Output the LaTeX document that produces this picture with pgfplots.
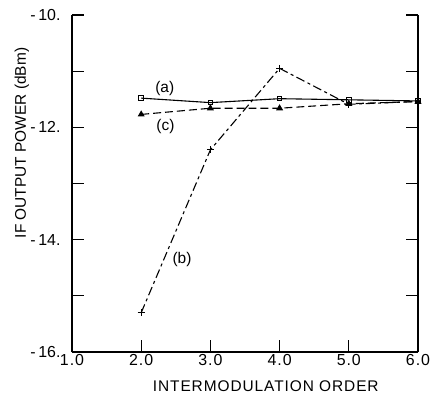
\documentclass[border=0pt]{standalone}
\usepackage{fontspec}
\setmainfont{Liberation Sans}
\newfontfamily\widefont[LetterSpace=6]{Liberation Sans}
\usepackage{pgfplots}
\pgfplotsset{compat=1.18}
\begin{document}
\begin{tikzpicture}
\pgfplotsset{
  common/.style={
    scale only axis, width=346bp, height=337bp,
    xmin=1, xmax=6, ymin=-16, ymax=-10,
    tick align=inside, major tick length=12bp,
    tick style={black, line width=1.1pt},
    axis line style={line width=1.1pt},
  }
}
\begin{axis}[common,
  axis x line*=bottom, axis y line*=left,
  xtick={1,2,3,4,5,6},
  xticklabels={1.0,2.0,3.0,4.0,5.0,6.0},
  ytick={-16,-15,-14,-13,-12,-11,-10},
  yticklabels={{-\,16.},{},{-\,14.},{},{-\,12.},{},{-\,10.}},
  yticklabel style={xshift=-8bp, font=\fontsize{16}{18}\selectfont},
  xticklabel style={yshift=1bp, font=\widefont\fontsize{16}{18}\selectfont},
  xlabel={INTERMODULATION\ ORDER},
  ylabel={IF OUTPUT POWER (dBm)},
  every axis x label/.style={at={(axis description cs:0.56,-0.10)}, anchor=center, font=\widefont\fontsize{15.5}{17}\selectfont},
  every axis y label/.style={at={(axis description cs:-0.145,0.62)}, rotate=90, anchor=center, font=\fontsize{15.5}{17}\selectfont},
  clip=false,
]
% (a) open squares, solid
\addplot[black, line width=1.1pt, mark=square, mark size=2.3pt, mark options={solid, line width=1pt}]
  coordinates {(2,-11.48) (3,-11.56) (4,-11.49) (5,-11.51) (6,-11.53)};
% (b) plus marks, dash-dot
\addplot[black, line width=1.1pt, dash pattern=on 9pt off 3.5pt on 3pt off 3.5pt, mark=+, mark size=3.5pt, mark options={solid, line width=1pt}]
  coordinates {(2,-15.30) (3,-12.40) (4,-10.95) (5,-11.59) (6,-11.54)};
% (c) filled triangles, dashed
\addplot[black, line width=1.1pt, dash pattern=on 8pt off 4pt, mark=triangle*, mark size=3pt, mark options={solid}]
  coordinates {(2,-11.77) (3,-11.66) (4,-11.66) (5,-11.58) (6,-11.54)};
\node[font=\fontsize{15.5}{17}\selectfont] at (axis cs:2.34,-11.30) {(a)};
\node[font=\fontsize{15.5}{17}\selectfont] at (axis cs:2.35,-11.98) {(c)};
\node[font=\fontsize{15.5}{17}\selectfont] at (axis cs:2.59,-14.36) {(b)};
\end{axis}
\begin{axis}[common,
  axis x line=none, axis y line*=right,
  ytick={-16,-15,-14,-13,-12,-11,-10},
  yticklabels={},
]
\end{axis}
\pgfresetboundingbox
\path[use as bounding box] (-72bp,-50bp) rectangle (358bp,352bp);
\end{tikzpicture}
\end{document}
